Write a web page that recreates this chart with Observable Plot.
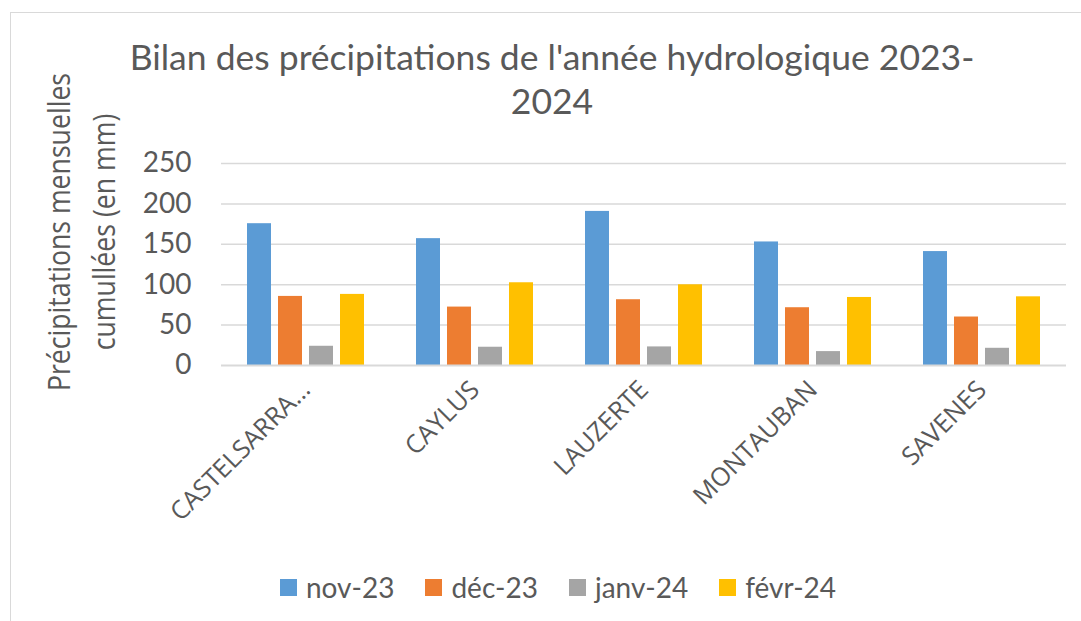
<!DOCTYPE html>
<html><head><meta charset="utf-8">
<script src="https://cdn.jsdelivr.net/npm/d3@7"></script>
<script src="https://cdn.jsdelivr.net/npm/@observablehq/plot@0.6"></script>
<style>
body{margin:0;background:#fff;}
#wrap{position:relative;width:1081px;height:621px;overflow:hidden;font-family:Lato,sans-serif;background:#fff;}
#frame{position:absolute;left:10px;top:12px;width:1200px;height:700px;border:1.5px solid #d9d9d9;box-sizing:border-box;}
#title{position:absolute;left:2px;width:1100px;top:35px;text-align:center;font-size:35.5px;line-height:44px;color:#595959;}
#ytitle{position:absolute;left:-119px;top:187px;width:400px;height:90px;transform:rotate(-90deg) scaleX(0.86);text-align:center;font-family:"Open Sans",sans-serif;font-size:31px;line-height:45px;color:#595959;}
#chart{position:absolute;left:0;top:130px;}
#legend{position:absolute;left:0;width:1116px;top:570px;display:flex;justify-content:center;gap:31px;font-size:28px;color:#595959;}
.item{display:flex;align-items:center;gap:9px;}
.sw{width:17px;height:17px;display:inline-block;}
</style></head>
<body>
<div id="wrap">
  <div id="frame"></div>
  <div id="title"></div>
  <div id="ytitle"></div>
  <div id="chart"></div>
  <div id="legend"></div>
</div>
<script>
const titleLines = ["Bilan des précipitations de l'année hydrologique 2023-", "2024"];
const yTitleLines = ["Précipitations mensuelles", "cumullées (en mm)"];
const stations = ["CASTELSARRASIN", "CAYLUS", "LAUZERTE", "MONTAUBAN", "SAVENES"];
const months = ["nov-23", "déc-23", "janv-24", "févr-24"];
const nov23 = [175.5, 157, 190.7, 152.9, 141];
const dec23 = [85.5, 72.3, 81.4, 71.5, 60];
const janv24 = [23.8, 22.6, 23, 17.2, 21.3];
const fevr24 = [88, 102.4, 99.9, 84.2, 85];
const yTicks = [0, 50, 100, 150, 200, 250];
const colors = ["#5b9bd5", "#ed7d31", "#a5a5a5", "#ffc000"];

const series = [nov23, dec23, janv24, fevr24];
const data = stations.flatMap((s, i) => months.map((m, j) => ({station: s, month: m, value: series[j][i]})));

document.getElementById("title").innerHTML = titleLines.join("<br>");
document.getElementById("ytitle").innerHTML = yTitleLines.join("<br>");

const plot = Plot.plot({
  width: 1081, height: 430,
  marginTop: 33, marginBottom: 195, marginLeft: 220, marginRight: 15,
  style: {fontFamily: "Lato, sans-serif", background: "transparent"},
  fx: {domain: stations, padding: 0, label: null, axis: null},
  x: {domain: months, paddingInner: 0.22, paddingOuter: 0.77, axis: null},
  y: {domain: [0, 250], axis: null},
  color: {domain: months, range: colors},
  marks: [
    Plot.ruleY(yTicks.filter(d => d > 0), {stroke: "#d9d9d9", strokeWidth: 1.5}),
    Plot.barY(data, {fx: "station", x: "month", y: "value", fill: "month"}),
    Plot.ruleY([0], {stroke: "#d9d9d9", strokeWidth: 2}),
    Plot.axisY(yTicks, {tickSize: 0, tickPadding: 30, fontSize: 28, fill: "#595959", label: null}),
    Plot.axisFx({anchor: "bottom", tickRotate: -45, tickSize: 0, tickPadding: 20, fontSize: 25.5,
      fontFamily: "Open Sans, sans-serif", fill: "#595959", label: null,
      tickFormat: d => d.length > 11 ? d.slice(0, 11) + "…" : d})
  ]
});
document.getElementById("chart").appendChild(plot);

const legend = document.getElementById("legend");
months.forEach((m, i) => {
  const it = document.createElement("div");
  it.className = "item";
  it.innerHTML = `<span class="sw" style="background:${colors[i]}"></span><span>${m}</span>`;
  legend.appendChild(it);
});
</script>
</body></html>
